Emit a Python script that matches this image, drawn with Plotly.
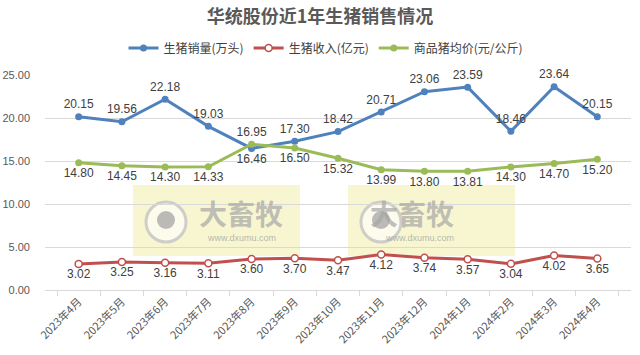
import plotly.graph_objects as go

months = ["2023年4月", "2023年5月", "2023年6月", "2023年7月", "2023年8月", "2023年9月",
          "2023年10月", "2023年11月", "2023年12月", "2024年1月", "2024年2月", "2024年3月", "2024年4月"]
sales_volume = [20.15, 19.56, 22.18, 19.03, 16.46, 17.30, 18.42, 20.71, 23.06, 23.59, 18.46, 23.64, 20.15]
revenue = [3.02, 3.25, 3.16, 3.11, 3.60, 3.70, 3.47, 4.12, 3.74, 3.57, 3.04, 4.02, 3.65]
avg_price = [14.80, 14.45, 14.30, 14.33, 16.95, 16.50, 15.32, 13.99, 13.80, 13.81, 14.30, 14.70, 15.20]
y_ticks = [0, 5, 10, 15, 20, 25]

blue = "#4F81BD"
red = "#C0504D"
green = "#9BBB59"
lab_font = dict(family="Liberation Sans, Arial, sans-serif", size=12, color="#404040")

vol_pos = ["top center"] * 13
vol_pos[4] = "bottom center"
price_pos = ["bottom center"] * 13
price_pos[4] = "top center"

L, R, T, B = 45, 9, 75, 65
PW = 640 - L - R
PH = 355 - T - B


def px(x):
    return (x - L) / PW


def py(y):
    return (355 - B - y) / PH


fig = go.Figure()
fig.add_trace(go.Scatter(x=months, y=sales_volume, name="生猪销量(万头)", mode="lines+markers+text",
                         line=dict(color=blue, width=3), marker=dict(color=blue, size=7),
                         text=[f"{v:.2f}" for v in sales_volume], textposition=vol_pos,
                         textfont=lab_font, cliponaxis=False))
fig.add_trace(go.Scatter(x=months, y=revenue, name="生猪收入(亿元)", mode="lines+markers+text",
                         line=dict(color=red, width=3),
                         marker=dict(color="white", size=7, line=dict(color=red, width=1.5)),
                         text=[f"{v:.2f}" for v in revenue], textposition="bottom center",
                         textfont=lab_font, cliponaxis=False))
fig.add_trace(go.Scatter(x=months, y=avg_price, name="商品猪均价(元/公斤)", mode="lines+markers+text",
                         line=dict(color=green, width=3), marker=dict(color=green, size=7),
                         text=[f"{v:.2f}" for v in avg_price], textposition=price_pos,
                         textfont=lab_font, cliponaxis=False))

# watermark boxes
for x0 in [133, 348]:
    fig.add_shape(type="rect", xref="paper", yref="paper",
                  x0=px(x0), x1=px(x0 + 167), y0=py(256), y1=py(185),
                  fillcolor="rgba(240,234,150,0.45)", line=dict(width=0), layer="below")
    cx = x0 + 33
    fig.add_shape(type="circle", xref="paper", yref="paper",
                  x0=px(cx - 20), x1=px(cx + 20), y0=py(242), y1=py(202),
                  fillcolor="rgba(255,255,255,0.6)", line=dict(color="rgba(195,195,195,0.8)", width=3),
                  layer="below")
    fig.add_shape(type="circle", xref="paper", yref="paper",
                  x0=px(cx - 9), x1=px(cx + 9), y0=py(229), y1=py(211),
                  fillcolor="rgba(170,170,170,0.8)", line=dict(width=0), layer="below")
    fig.add_annotation(xref="paper", yref="paper", x=px(x0 + 108), y=py(213),
                       text="<b>大畜牧</b>", showarrow=False,
                       font=dict(family="Noto Sans CJK SC", size=28, color="rgba(165,165,165,0.7)"))
    fig.add_annotation(xref="paper", yref="paper", x=px(x0 + 108), y=py(245),
                       text="www.dxumu.com", showarrow=False,
                       font=dict(family="Liberation Sans, Arial", size=9, color="rgba(165,165,165,0.8)"))

fig.update_layout(
    width=640, height=355,
    margin=dict(l=L, r=R, t=T, b=B, autoexpand=False),
    paper_bgcolor="white", plot_bgcolor="white",
    title=dict(text="<b>华统股份近1年生猪销售情况</b>", x=0.5, xanchor="center", y=1 - 17 / 355, yanchor="middle",
               font=dict(family="Noto Sans CJK SC", size=18, color="#595959")),
    legend=dict(orientation="h", x=px(326), xanchor="center", y=py(48), yanchor="middle",
                font=dict(family="Noto Sans CJK SC", size=12, color="#404040"),
                itemwidth=30, bgcolor="rgba(0,0,0,0)"),
    showlegend=True,
    font=dict(family="Noto Sans CJK SC", color="#595959"),
)
fig.update_yaxes(range=[0, 25], tickvals=y_ticks, ticktext=[f"{v:.2f}" for v in y_ticks],
                 showgrid=True, gridcolor="#D9D9D9", gridwidth=1, zeroline=False, automargin=False,
                 showline=False, ticks="", ticklabelstandoff=14,
                 tickfont=dict(family="Liberation Sans, Arial", size=11, color="#595959"))
fig.update_xaxes(type="category", tickangle=-45, showgrid=False, showline=True, linecolor="#D9D9D9",
                 ticks="outside", tickson="boundaries", ticklen=5, tickcolor="#D9D9D9", automargin=False,
                 tickfont=dict(family="Noto Sans CJK SC", size=11, color="#595959"))

fig.write_html("out.html", config={"displayModeBar": False},
               post_script="document.body.style.margin='0';document.body.style.overflow='hidden';")
